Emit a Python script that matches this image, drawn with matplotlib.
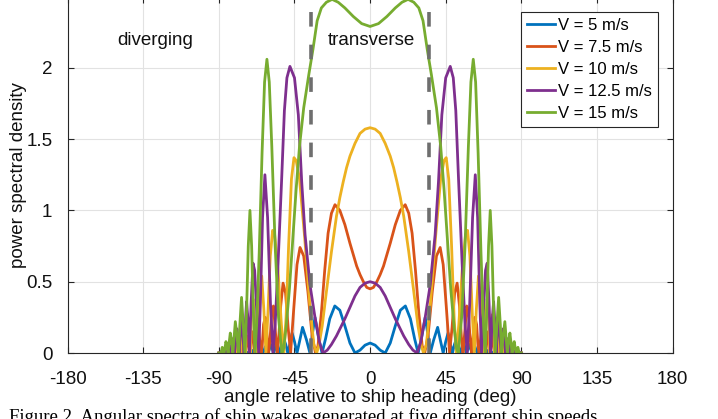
import matplotlib
matplotlib.use("Agg")
import matplotlib.pyplot as plt
import numpy as np

# half spectra (angle >= 0), curves are symmetric about 0 deg
ang_v5 = [0, 3, 6, 9, 12, 15, 18, 21, 24, 26.5, 28.6, 30.7, 32.8, 34.4, 35.8, 37.8, 40.2, 42, 43.5,
          45, 46.4, 47.8, 49, 50.2, 51.4, 52.6, 53.6, 54.6, 55.6, 56.6, 57.4, 58.3, 59.2, 60.1, 60.8,
          61.6, 62.4, 63.2, 63.8, 64.5, 65.2, 65.9, 66.5, 67.2, 67.8, 68.4, 69, 69.6, 70.2, 70.8,
          71.4, 72, 73, 74, 75, 76, 78, 80, 85, 90]
psd_v5 = [0.07, 0.055, 0.02, 0.0, 0.07, 0.19, 0.30, 0.33, 0.24, 0.10, 0.0, 0.11, 0.25, 0.13, 0.0,
          0.09, 0.18, 0.08, 0.0, 0.08, 0.14, 0.06, 0.0, 0.06, 0.10, 0.04, 0.0, 0.04, 0.08, 0.03, 0.0,
          0.03, 0.06, 0.02, 0.0, 0.025, 0.045, 0.015, 0.0, 0.02, 0.035, 0.01, 0.0, 0.015, 0.025, 0.01,
          0.0, 0.012, 0.018, 0.005, 0.0, 0.01, 0.0, 0.008, 0.0, 0.005, 0.0, 0.0, 0.0, 0.0]

ang_v75 = [0, 2, 4, 6, 8, 10, 12, 15, 18, 20.9, 23, 25, 27, 29, 31, 32.5, 34.5, 37, 39.5, 41.7, 43.5,
           45.5, 47.3, 48.8, 50.3, 51.8, 53.2, 54.4, 55.3, 56.3, 57.5, 58.5, 59.5, 60.4, 61.3, 62.4,
           63.4, 64.2, 64.9, 65.8, 66.6, 67.4, 68.1, 68.8, 69.6, 70.3, 70.9, 71.5, 72.2, 72.8, 73.4,
           74, 74.6, 75.1, 75.7, 76.3, 76.8, 77.4, 78, 78.5, 79.1, 79.6, 80.5, 81.5, 82.5, 83.5, 85,
           87, 90]
psd_v75 = [0.45, 0.46, 0.50, 0.55, 0.61, 0.69, 0.77, 0.90, 1.00, 1.04, 0.98, 0.84, 0.58, 0.28, 0.05,
           0.0, 0.12, 0.43, 0.68, 0.74, 0.62, 0.30, 0.0, 0.18, 0.42, 0.49, 0.33, 0.10, 0.0, 0.14,
           0.33, 0.30, 0.10, 0.0, 0.12, 0.25, 0.20, 0.05, 0.0, 0.10, 0.19, 0.14, 0.03, 0.0, 0.09,
           0.15, 0.10, 0.0, 0.07, 0.12, 0.07, 0.0, 0.06, 0.09, 0.05, 0.0, 0.04, 0.07, 0.03, 0.0,
           0.03, 0.05, 0.0, 0.03, 0.0, 0.02, 0.0, 0.0, 0.0]

ang_v10 = [0, 3, 6, 9, 12, 14, 16, 18, 20, 23, 26, 28.5, 30.5, 31.8, 33.5, 36, 39, 42, 44, 45.3,
           46.8, 48.5, 50, 51.3, 52.8, 54.8, 56.8, 58, 59.4, 60.8, 62, 63.2, 64.5, 65.7, 66.8, 67.7,
           68.7, 69.7, 70.6, 71.3, 72.1, 72.9, 73.6, 74.2, 74.9, 75.6, 76.2, 76.7, 77.3, 77.9, 78.4,
           79, 79.6, 80.1, 81, 82, 83, 84, 86, 90]
psd_v10 = [1.58, 1.57, 1.54, 1.47, 1.38, 1.30, 1.20, 1.09, 0.96, 0.71, 0.43, 0.19, 0.05, 0.0, 0.06,
           0.36, 0.82, 1.22, 1.35, 1.37, 1.22, 0.75, 0.25, 0.0, 0.20, 0.58, 0.83, 0.86, 0.68, 0.28,
           0.0, 0.30, 0.54, 0.40, 0.10, 0.0, 0.22, 0.38, 0.27, 0.0, 0.18, 0.27, 0.17, 0.0, 0.12, 0.19,
           0.10, 0.0, 0.09, 0.13, 0.06, 0.0, 0.06, 0.08, 0.0, 0.05, 0.0, 0.03, 0.0, 0.0]

ang_v125 = [0, 3, 6, 9, 12, 15, 17.5, 20, 23, 25.5, 28, 30, 32.8, 35.8, 38.7, 40.7, 42.7, 45, 47.7,
            49.5, 51, 52.7, 54.8, 56.5, 57.8, 59.3, 61, 62.6, 64, 65.3, 66.3, 67.5, 68.7, 69.7, 70.8,
            71.8, 72.6, 73.5, 74.3, 75, 75.8, 76.6, 77.3, 78, 78.7, 79.3, 80, 80.7, 81.4, 82, 83, 84,
            85, 87, 90]
psd_v125 = [0.50, 0.49, 0.46, 0.40, 0.32, 0.24, 0.18, 0.12, 0.06, 0.02, 0.0, 0.07, 0.25, 0.48, 0.83,
            1.20, 1.67, 1.93, 2.01, 1.93, 1.70, 1.20, 0.62, 0.20, 0.0, 0.35, 0.95, 1.25, 0.95, 0.35,
            0.0, 0.30, 0.58, 0.63, 0.35, 0.0, 0.22, 0.36, 0.20, 0.0, 0.15, 0.25, 0.12, 0.0, 0.12,
            0.17, 0.07, 0.0, 0.08, 0.10, 0.0, 0.05, 0.0, 0.02, 0.0]

ang_v15 = [0, 5, 10, 15, 19, 22.6, 26, 29, 31.5, 34, 36.5, 39.5, 42, 44, 46, 48, 50, 51.5, 52.5,
           54.5, 56.5, 58.5, 60, 61.4, 62.8, 64.3, 66, 67.5, 68.5, 69.5, 70.5, 71.5, 72.5, 73.5, 74.5,
           75.5, 76.5, 77.5, 78.3, 79.2, 80.2, 81, 81.7, 82.4, 83.2, 84, 84.5, 85.1, 85.8, 86.4, 87,
           87.5, 88, 88.5, 89, 90]
psd_v15 = [2.29, 2.31, 2.36, 2.42, 2.46, 2.48, 2.46, 2.42, 2.33, 2.13, 1.95, 1.72, 1.45, 1.15, 0.80,
           0.45, 0.18, 0.03, 0.0, 0.25, 0.75, 1.45, 1.90, 2.06, 1.90, 1.40, 0.70, 0.20, 0.0, 0.30,
           0.75, 1.00, 0.75, 0.30, 0.0, 0.20, 0.39, 0.20, 0.0, 0.12, 0.22, 0.10, 0.0, 0.08, 0.14, 0.06,
           0.0, 0.05, 0.08, 0.03, 0.0, 0.03, 0.04, 0.01, 0.0, 0.0]

labels = ["V = 5 m/s", "V = 7.5 m/s", "V = 10 m/s", "V = 12.5 m/s", "V = 15 m/s"]
colors = ["#0072BD", "#D95319", "#EDB120", "#7E2F8E", "#77AC30"]
kelvin_angle = 35.26
xticks = [-180, -135, -90, -45, 0, 45, 90, 135, 180]
yticks = [0, 0.5, 1, 1.5, 2]
caption = "Figure 2. Angular spectra of ship wakes generated at five different ship speeds"


def mirror(ang, psd):
    ang = np.asarray(ang, dtype=float)
    psd = np.asarray(psd, dtype=float)
    return np.concatenate([-ang[:0:-1], ang]), np.concatenate([psd[:0:-1], psd])


plt.rcParams["font.family"] = ["Liberation Sans", "DejaVu Sans"]
plt.rcParams["axes.unicode_minus"] = False
plt.rcParams["lines.scale_dashes"] = False

fig = plt.figure(figsize=(7.18, 4.19), dpi=100)
ax = fig.add_axes([0.0942, 0.1575, 0.8425, 0.8508])

series = [(ang_v5, psd_v5), (ang_v75, psd_v75), (ang_v10, psd_v10),
          (ang_v125, psd_v125), (ang_v15, psd_v15)]
for (ang, psd), lab, col in zip(series, labels, colors):
    x, y = mirror(ang, psd)
    ax.plot(x, y, color=col, lw=2.0, label=lab, solid_joinstyle="round")

for xv in (-kelvin_angle, kelvin_angle):
    ax.plot([xv, xv], [0, 2.5], color="#6e6e6e", lw=2.6, dashes=(10.5, 13), zorder=5)

ax.text(-128, 2.19, "diverging", ha="center", va="center", fontsize=13.5, color="#111111")
ax.text(0.5, 2.19, "transverse", ha="center", va="center", fontsize=13.5, color="#111111")

ax.set_xlim(-180, 180)
ax.set_ylim(0, 2.5)
ax.set_xticks(xticks)
ax.set_xticklabels([str(t) for t in xticks])
ax.set_yticks(yticks)
ax.set_yticklabels(["0", "0.5", "1", "1.5", "2"])
ax.grid(True, color="#e2e2e2", lw=0.8)
ax.set_axisbelow(True)
ax.tick_params(direction="in", length=4, width=0.8, top=True, right=True,
               labelsize=13.5, colors="#262626", labelcolor="#111111")
ax.tick_params(axis="x", pad=13)
ax.tick_params(axis="y", pad=11)
for sp in ax.spines.values():
    sp.set_color("#262626")
    sp.set_linewidth(0.8)

ax.set_xlabel("angle relative to ship heading (deg)", fontsize=13.5, color="#111111", labelpad=0.5)
ax.set_ylabel("power spectral density", fontsize=13.5, color="#111111", labelpad=-1)

leg = ax.legend(loc="upper right", bbox_to_anchor=(0.9758, 0.9565), borderaxespad=0,
                fontsize=12, handlelength=1.7, handletextpad=0.2, labelspacing=0.42,
                borderpad=0.35, fancybox=False, framealpha=1)
leg.get_frame().set_edgecolor("#262626")
leg.get_frame().set_linewidth(0.8)

fig.text(0.012, -0.008, caption, family="Liberation Serif", fontsize=13.5, va="baseline", ha="left")

fig.savefig("out.png", dpi=100)
